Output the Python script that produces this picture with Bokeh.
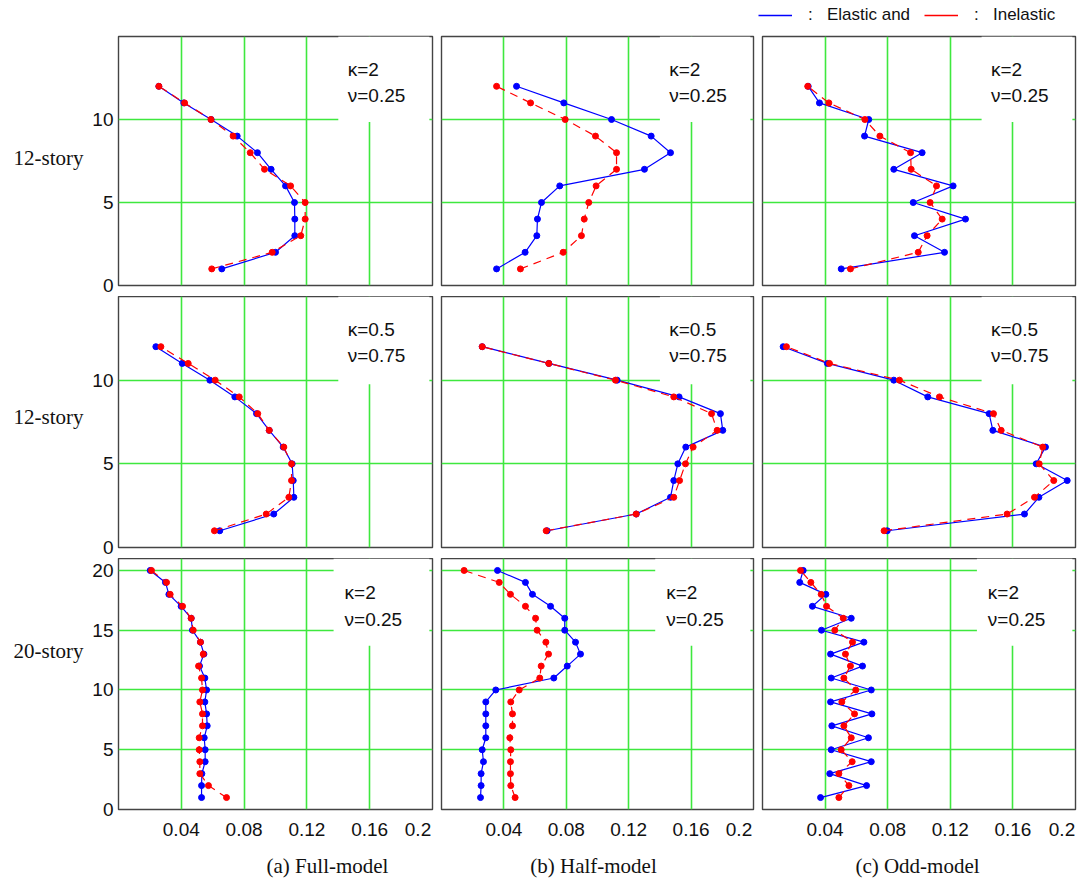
from bokeh.plotting import figure
from bokeh.layouts import column, row
from bokeh.models import Label, BoxAnnotation, Legend, LegendItem, FixedTicker, ColumnDataSource
from bokeh.embed import file_html
from bokeh.resources import INLINE

# ---------------- data ----------------
stories_12 = list(range(1, 13))
stories_20 = list(range(1, 21))

# row 1 : 12-story, kappa=2, nu=0.25 (story 1 -> 12)
full12a_el = [0.0658, 0.1000, 0.1123, 0.1123, 0.1121, 0.1064, 0.0972, 0.0885, 0.0756, 0.0590, 0.0416, 0.0257]
full12a_in = [0.0594, 0.0979, 0.1161, 0.1189, 0.1189, 0.1096, 0.0930, 0.0839, 0.0730, 0.0589, 0.0421, 0.0257]
half12a_el = [0.0353, 0.0536, 0.0611, 0.0615, 0.0641, 0.0758, 0.1301, 0.1468, 0.1344, 0.1090, 0.0784, 0.0481]
half12a_in = [0.0506, 0.0780, 0.0897, 0.0915, 0.0944, 0.0991, 0.1122, 0.1122, 0.0987, 0.0793, 0.0571, 0.0353]
odd12a_el = [0.0503, 0.1163, 0.0971, 0.1297, 0.0963, 0.1218, 0.0839, 0.1020, 0.0652, 0.0679, 0.0364, 0.0292]
odd12a_in = [0.0562, 0.0995, 0.1052, 0.1148, 0.1071, 0.1112, 0.0950, 0.0946, 0.0750, 0.0654, 0.0424, 0.0289]

# row 2 : 12-story, kappa=0.5, nu=0.75
full12b_el = [0.0645, 0.0989, 0.1117, 0.1113, 0.1106, 0.1049, 0.0960, 0.0879, 0.0741, 0.0582, 0.0406, 0.0238]
full12b_in = [0.0611, 0.0941, 0.1085, 0.1102, 0.1102, 0.1053, 0.0960, 0.0887, 0.0769, 0.0616, 0.0444, 0.0270]
half12b_el = [0.0677, 0.1248, 0.1468, 0.1489, 0.1515, 0.1566, 0.1803, 0.1788, 0.1523, 0.1126, 0.0688, 0.0261]
half12b_in = [0.0671, 0.1248, 0.1489, 0.1526, 0.1564, 0.1613, 0.1767, 0.1731, 0.1489, 0.1115, 0.0688, 0.0261]
odd12b_el = [0.0797, 0.1674, 0.1766, 0.1947, 0.1749, 0.1808, 0.1472, 0.1448, 0.1056, 0.0839, 0.0415, 0.0132]
odd12b_in = [0.0777, 0.1563, 0.1738, 0.1861, 0.1768, 0.1791, 0.1525, 0.1476, 0.1131, 0.0875, 0.0428, 0.0153]

# row 3 : 20-story, kappa=2, nu=0.25
full20_el = [0.0529, 0.0529, 0.0531, 0.0552, 0.0552, 0.0546, 0.0565, 0.0561, 0.0550, 0.0561,
             0.0550, 0.0516, 0.0544, 0.0522, 0.0471, 0.0463, 0.0399, 0.0321, 0.0299, 0.0202]
full20_in = [0.0688, 0.0573, 0.0518, 0.0518, 0.0514, 0.0514, 0.0535, 0.0535, 0.0518, 0.0535,
             0.0529, 0.0510, 0.0540, 0.0522, 0.0476, 0.0463, 0.0408, 0.0329, 0.0306, 0.0210]
half20_el = [0.0250, 0.0254, 0.0254, 0.0269, 0.0261, 0.0284, 0.0284, 0.0284, 0.0284, 0.0348,
             0.0720, 0.0806, 0.0891, 0.0859, 0.0790, 0.0790, 0.0699, 0.0583, 0.0538, 0.0359]
half20_in = [0.0472, 0.0444, 0.0442, 0.0442, 0.0444, 0.0438, 0.0455, 0.0455, 0.0444, 0.0498,
             0.0630, 0.0639, 0.0686, 0.0669, 0.0613, 0.0603, 0.0538, 0.0442, 0.0370, 0.0145]
odd20_el = [0.0371, 0.0665, 0.0430, 0.0695, 0.0439, 0.0677, 0.0443, 0.0699, 0.0435, 0.0695,
            0.0439, 0.0639, 0.0435, 0.0648, 0.0377, 0.0567, 0.0319, 0.0405, 0.0238, 0.0260]
odd20_in = [0.0488, 0.0552, 0.0488, 0.0573, 0.0503, 0.0567, 0.0520, 0.0588, 0.0507, 0.0596,
            0.0520, 0.0562, 0.0530, 0.0575, 0.0462, 0.0516, 0.0409, 0.0375, 0.0309, 0.0243]

x_ticks = [0.04, 0.08, 0.12, 0.16, 0.2]
x_grid_ticks = [0.04, 0.08, 0.12, 0.16]
y_ticks_12 = [0, 5, 10]
y_ticks_20 = [0, 5, 10, 15, 20]
kappa_labels = ["κ=2", "κ=0.5", "κ=2"]
nu_labels = ["ν=0.25", "ν=0.75", "ν=0.25"]
row_labels = ["12-story", "12-story", "20-story"]
captions = ["(a) Full-model", "(b) Half-model", "(c) Odd-model"]
legend_labels = [":\u00a0\u00a0\u00a0Elastic and", ":\u00a0\u00a0\u00a0Inelastic"]

panel_data = [
    [(full12a_el, full12a_in), (half12a_el, half12a_in), (odd12a_el, odd12a_in)],
    [(full12b_el, full12b_in), (half12b_el, half12b_in), (odd12b_el, odd12b_in)],
    [(full20_el, full20_in), (half20_el, half20_in), (odd20_el, odd20_in)],
]

# ---------------- styling / layout ----------------
BLUE = "#0000ff"
RED = "#ff0000"
GRID = "#3ee83e"
SANS = "Liberation Sans"
SERIF = "Liberation Serif"
TXT = "#111111"
NAN = float("nan")

LABEL_W = 88
LEGEND_H = 35
CAPTION_H = 35
row_frame_h = [249, 251, 251]
col_frame_w = [314, 312, 313]
col_borders = [(30, 4), (5, 4), (5, 5)]        # left, right
row_borders = [(1, 11), (0, 11), (0, 35)]      # top, bottom
row_ymax = [15, 15, 21]
row_yticks = [y_ticks_12, y_ticks_12, y_ticks_20]
row_stories = [stories_12, stories_12, stories_20]
row_box = [(0.140, 0.198, 9.85), (0.140, 0.198, 9.75), (0.137, 0.198, 13.7)]
row_text_y = [(13.0, 11.45), (13.0, 11.45), (18.14, 15.88)]
row_text_x = [0.146, 0.146, 0.144]
row_label_pos = [(13, 134), (13, 136.3), (13, 180.7)]     # pixels in the side strip
caption_pos_x = [327, 593, 917]
caption_pos_y = 13.2


def text_strip(w, h):
    f = figure(width=w, height=h, x_range=(0, w), y_range=(0, h),
               output_backend="svg", toolbar_location=None,
               x_axis_location=None, y_axis_location=None,
               min_border_left=0, min_border_right=0, min_border_top=0, min_border_bottom=0)
    f.outline_line_color = None
    f.background_fill_color = "white"
    f.border_fill_color = "white"
    f.xgrid.visible = False
    f.ygrid.visible = False
    return f


total_w = LABEL_W + sum(col_frame_w) + sum(a + b for a, b in col_borders)

# legend strip on top (proxy renderers hold no drawable point)
leg_fig = text_strip(total_w, LEGEND_H)
r_b = leg_fig.line(x=[NAN], y=[NAN], line_color=BLUE, line_width=1.3)
r_r = leg_fig.line(x=[NAN], y=[NAN], line_color=RED, line_width=1.3)
legend = Legend(items=[LegendItem(label=legend_labels[0], renderers=[r_b]),
                       LegendItem(label=legend_labels[1], renderers=[r_r])],
                location=(758, 10), orientation="horizontal",
                glyph_width=34, glyph_height=16, label_height=16, label_standoff=16,
                spacing=14, padding=0, margin=0,
                border_line_color=None, background_fill_alpha=0,
                label_text_font=SANS, label_text_font_size="17px",
                label_text_color=TXT)
leg_fig.add_layout(legend)

rows = [leg_fig]
for ri in range(3):
    bt, bb = row_borders[ri]
    fig_h = row_frame_h[ri] + bt + bb
    side = text_strip(LABEL_W, fig_h)
    lx, ly = row_label_pos[ri]
    side.add_layout(Label(x=lx, y=ly, text=row_labels[ri], text_font=SERIF,
                          text_font_size="21px", text_baseline="middle",
                          text_align="left", text_color=TXT))
    figs = [side]
    for ci in range(3):
        bl, br = col_borders[ci]
        ymax = row_ymax[ri]
        p = figure(width=col_frame_w[ci] + bl + br, height=fig_h,
                   x_range=(0, 0.2), y_range=(0, ymax),
                   output_backend="svg", toolbar_location=None,
                   min_border_left=bl, min_border_right=br,
                   min_border_top=bt, min_border_bottom=bb)
        p.background_fill_color = "white"
        p.border_fill_color = "white"
        p.outline_line_color = "#444444"
        p.outline_line_width = 1.4

        p.xgrid.ticker = FixedTicker(ticks=x_grid_ticks)
        p.ygrid.ticker = FixedTicker(ticks=row_yticks[ri])
        for g in (p.xgrid, p.ygrid):
            g.grid_line_color = GRID
            g.grid_line_width = 1.6

        for ax in (p.xaxis, p.yaxis):
            ax.axis_line_color = None
            ax.major_tick_line_color = None
            ax.minor_tick_line_color = None
            ax.major_tick_out = 0
            ax.major_tick_in = 0
            ax.minor_tick_out = 0
            ax.major_label_text_font = SANS
            ax.major_label_text_font_size = "19px"
            ax.major_label_text_color = TXT
        p.xaxis.ticker = FixedTicker(ticks=x_ticks)
        # "0.2" sits flush with the right edge of the panel, as in the original
        pad02 = "0.2" + "\u00a0"
        p.xaxis.major_label_overrides = {0.2: pad02, "0.2": pad02}
        p.yaxis.ticker = FixedTicker(ticks=row_yticks[ri])
        p.xaxis.major_label_standoff = 9
        p.yaxis.major_label_standoff = 5
        if ci != 0:
            p.yaxis.visible = False
        if ri != 2:
            p.xaxis.visible = False

        el, inl = panel_data[ri][ci]
        st = row_stories[ri]
        src_el = ColumnDataSource(dict(x=el, y=st))
        src_in = ColumnDataSource(dict(x=inl, y=st))
        p.line("x", "y", source=src_el, line_color=BLUE, line_width=1.2)
        p.scatter("x", "y", source=src_el, size=6, color=BLUE)
        p.line("x", "y", source=src_in, line_color=RED, line_width=1.2, line_dash="8 6")
        p.scatter("x", "y", source=src_in, size=6, color=RED)

        bx0, bx1, by0 = row_box[ri]
        p.add_layout(BoxAnnotation(left=bx0, right=bx1, bottom=by0, top=ymax,
                                   fill_color="white", fill_alpha=1.0, line_color=None))
        ky, ny = row_text_y[ri]
        for txt, yy in ((kappa_labels[ri], ky), (nu_labels[ri], ny)):
            p.add_layout(Label(x=row_text_x[ri], y=yy, text=txt, text_font=SANS,
                               text_font_size="19px", text_baseline="middle",
                               text_align="left", text_color=TXT))
        figs.append(p)
    rows.append(row(*figs, spacing=0))

cap_fig = text_strip(total_w, CAPTION_H)
for ci in range(3):
    cap_fig.add_layout(Label(x=caption_pos_x[ci], y=caption_pos_y, text=captions[ci],
                             text_font=SERIF, text_font_size="21px",
                             text_baseline="middle", text_align="center",
                             text_color=TXT))
rows.append(cap_fig)

layout = column(*rows, spacing=0)
open("out.html", "w").write(file_html(layout, INLINE))
